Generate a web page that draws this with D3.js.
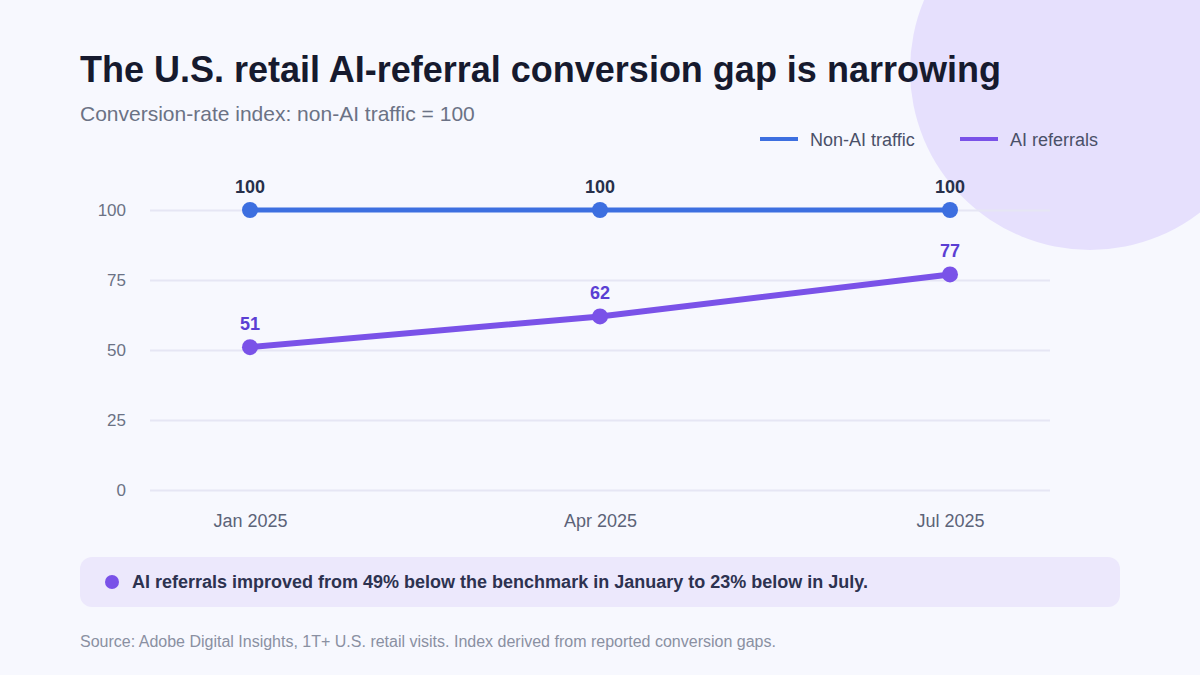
<!DOCTYPE html>
<html>
<head>
<meta charset="utf-8">
<script src="https://d3js.org/d3.v7.min.js"></script>
<style>
  body { margin: 0; background: #f7f8fe; }
  svg { display: block; font-family: "Liberation Sans", Arial, sans-serif; }
</style>
</head>
<body>
<div class="chart"></div>
<script>
const months = ["Jan 2025", "Apr 2025", "Jul 2025"];
const nonAiValues = [100, 100, 100];
const aiValues = [51, 62, 77];
const yTicks = [0, 25, 50, 75, 100];

const width = 1200, height = 675;
const blue = "#3d6fe0", purple = "#7a52e8";

const svg = d3.select(".chart").append("svg")
    .attr("width", width)
    .attr("height", height);

svg.append("rect").attr("width", width).attr("height", height).attr("fill", "#f7f8fe");

// decorative circle top right
svg.append("circle")
    .attr("cx", 1090).attr("cy", 70).attr("r", 180)
    .attr("fill", "#e6e0fd");

svg.append("text")
    .attr("x", 80).attr("y", 82)
    .attr("font-size", 36).attr("font-weight", "bold")
    .attr("fill", "#161a2e")
    .text("The U.S. retail AI-referral conversion gap is narrowing");

svg.append("text")
    .attr("x", 80).attr("y", 121)
    .attr("font-size", 21).attr("fill", "#6b7285")
    .text("Conversion-rate index: non-AI traffic = 100");

// legend
let legend = [
    { name: "Non-AI traffic", color: blue, x: 760 },
    { name: "AI referrals", color: purple, x: 960 }
];
let lg = svg.append("g").selectAll("g").data(legend).enter().append("g")
    .attr("transform", d => "translate(" + d.x + ",139)");
lg.append("line").attr("x1", 0).attr("x2", 38)
    .attr("stroke", d => d.color).attr("stroke-width", 4);
lg.append("text").attr("x", 50).attr("y", 7)
    .attr("font-size", 18).attr("fill", "#4a5068")
    .text(d => d.name);

let x = d3.scalePoint()
    .domain(months)
    .range([150, 1050])
    .padding(0.2857);

let y = d3.scaleLinear()
    .domain([0, 100])
    .range([490, 210]);

// grid
let grid = svg.append("g")
    .attr("transform", "translate(150,0)")
    .call(d3.axisLeft(y).tickValues(yTicks).tickSize(-900).tickFormat(""));
grid.select(".domain").remove();
grid.selectAll("line").attr("stroke", "#e6e6f4").attr("stroke-width", 2);

// y axis labels
let yAxis = svg.append("g")
    .attr("transform", "translate(126,0)")
    .call(d3.axisLeft(y).tickValues(yTicks).tickSize(0).tickPadding(0));
yAxis.select(".domain").remove();
yAxis.selectAll("text").attr("font-size", 17).attr("fill", "#6b7285")
    .attr("font-family", "Liberation Sans, Arial, sans-serif");

// x axis labels
let xAxis = svg.append("g")
    .attr("transform", "translate(0,514)")
    .call(d3.axisBottom(x).tickSize(0).tickPadding(0));
xAxis.select(".domain").remove();
xAxis.selectAll("text").attr("font-size", 18).attr("fill", "#5c6378")
    .attr("font-family", "Liberation Sans, Arial, sans-serif");

let series = [
    { values: nonAiValues, color: blue, width: 5, labelColor: "#27304a" },
    { values: aiValues, color: purple, width: 6, labelColor: "#5b3fd3" }
];

let line = d3.line()
    .x((d, i) => x(months[i]))
    .y(d => y(d));

series.forEach(s => {
    svg.append("path")
        .datum(s.values)
        .attr("fill", "none")
        .attr("stroke", s.color)
        .attr("stroke-width", s.width)
        .attr("stroke-linecap", "round")
        .attr("d", line);

    svg.selectAll(null)
        .data(s.values)
        .enter()
        .append("circle")
        .attr("cx", (d, i) => x(months[i]))
        .attr("cy", d => y(d))
        .attr("r", 8)
        .attr("fill", s.color);

    svg.selectAll(null)
        .data(s.values)
        .enter()
        .append("text")
        .attr("x", (d, i) => x(months[i]))
        .attr("y", d => y(d) - 17)
        .attr("text-anchor", "middle")
        .attr("font-size", 18)
        .attr("font-weight", "bold")
        .attr("fill", s.labelColor)
        .text(d => d);
});

// annotation box
svg.append("rect")
    .attr("x", 80).attr("y", 557)
    .attr("width", 1040).attr("height", 50)
    .attr("rx", 12)
    .attr("fill", "#ece8fc");
svg.append("circle")
    .attr("cx", 112).attr("cy", 582).attr("r", 7)
    .attr("fill", purple);
svg.append("text")
    .attr("x", 132).attr("y", 588)
    .attr("font-size", 18).attr("font-weight", "bold")
    .attr("fill", "#2d3250")
    .text("AI referrals improved from 49% below the benchmark in January to 23% below in July.");

svg.append("text")
    .attr("x", 80).attr("y", 647)
    .attr("font-size", 16).attr("fill", "#8a90a2")
    .text("Source: Adobe Digital Insights, 1T+ U.S. retail visits. Index derived from reported conversion gaps.");
</script>
</body>
</html>
